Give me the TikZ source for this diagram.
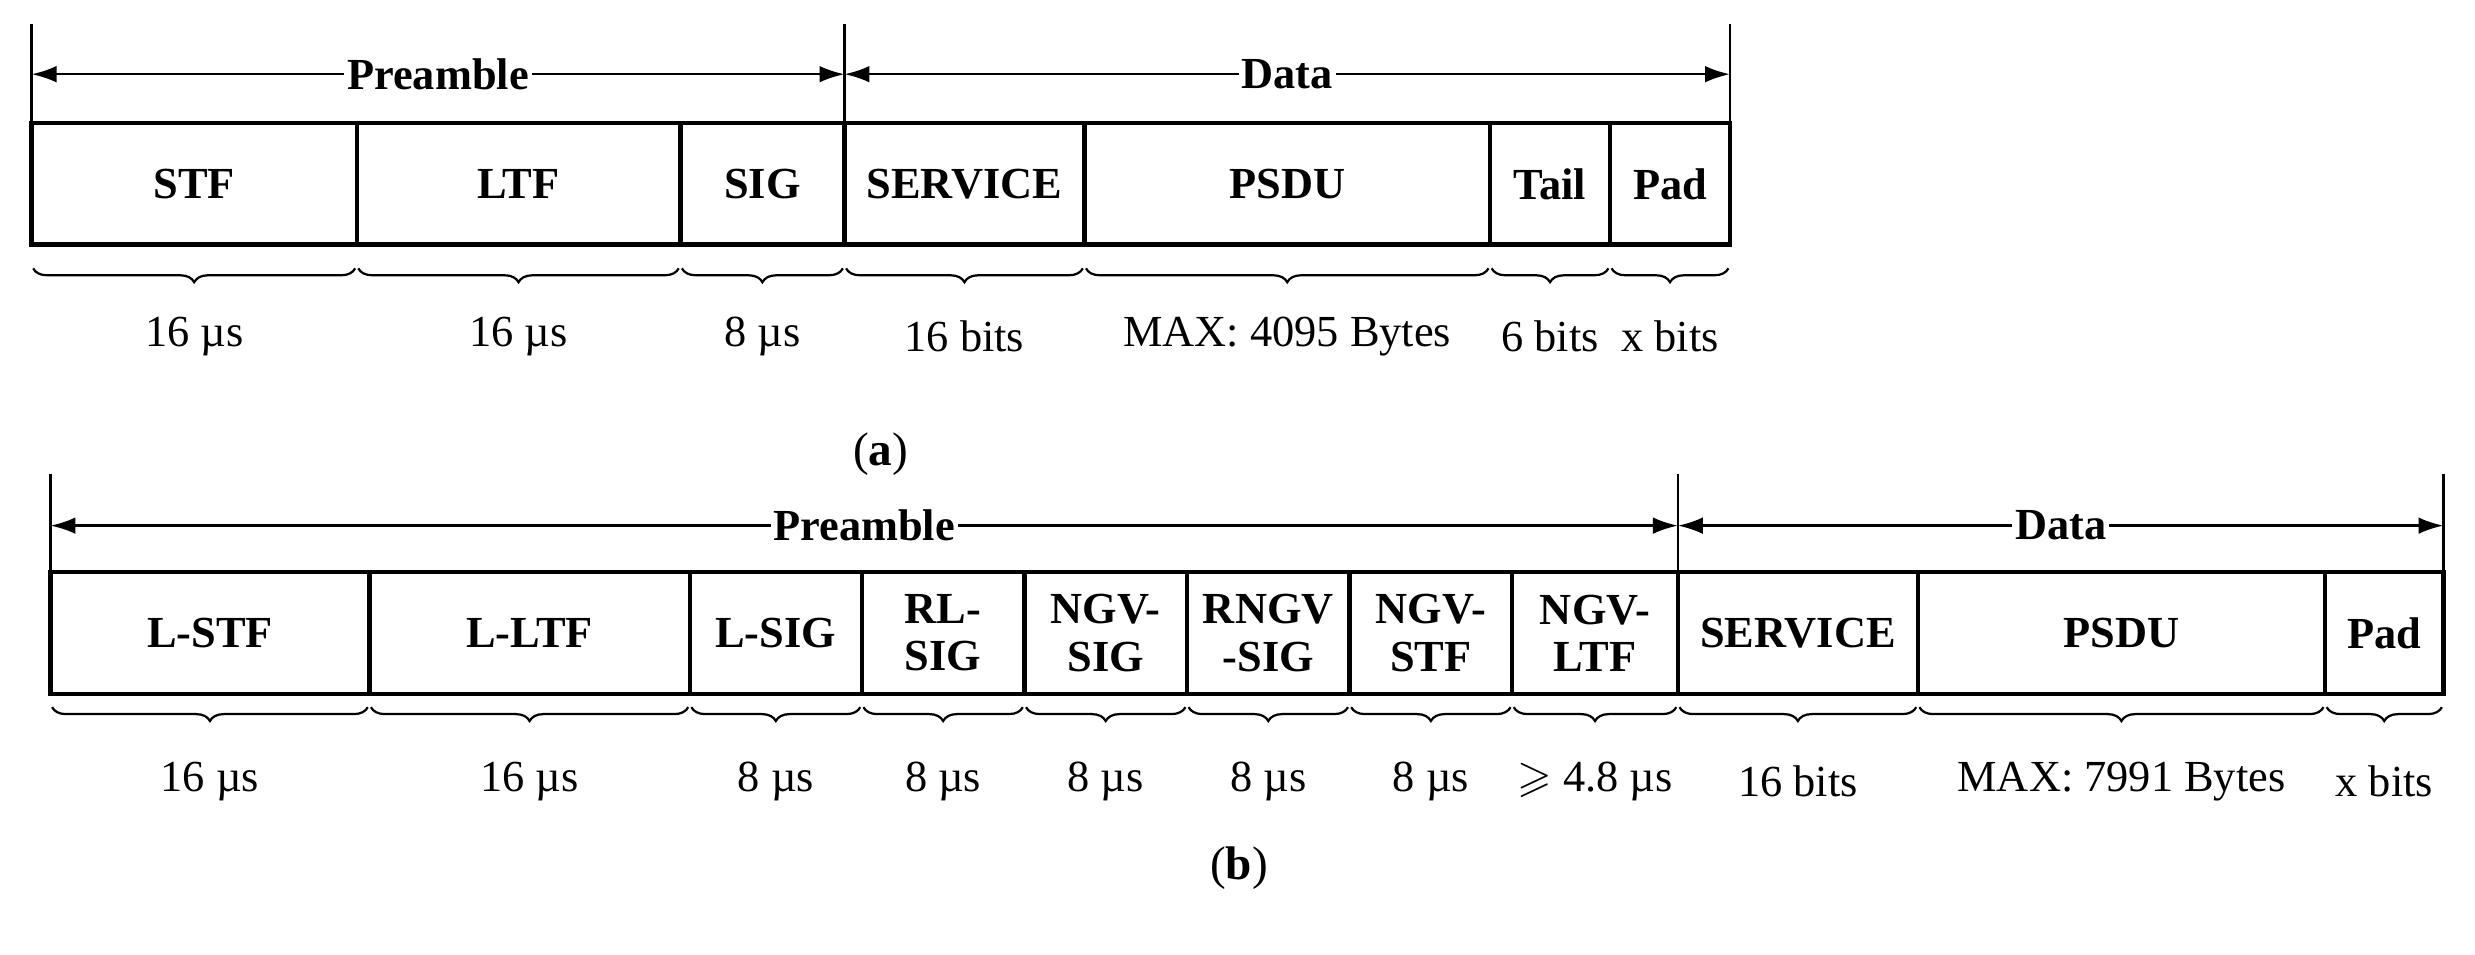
\documentclass[tikz,border=0pt]{standalone}
\usepackage{amssymb}
\usepackage{fontspec}
\setmainfont{Liberation Serif}
\usetikzlibrary{decorations.pathreplacing,arrows.meta}
\begin{document}
\begin{tikzpicture}[x=0.02cm,y=-0.02cm,
 cell/.style={draw,line width=1.6pt,minimum height=1.54cm,inner sep=0pt,font=\fontsize{16}{17}\selectfont\bfseries,align=center},
 lab/.style={font=\fontsize{16}{17}\selectfont},
 br/.style={decorate,decoration={brace,mirror,amplitude=5pt},line width=0.8pt},
 arr/.style={{Latex[length=9pt,width=6pt]}-{Latex[length=9pt,width=6pt]},line width=0.9pt},
 tk/.style={line width=0.9pt},
 hd/.style={fill=white,inner sep=1pt,font=\fontsize{16}{17}\selectfont\bfseries}]
\useasboundingbox (0,0) rectangle (1568,604.5);
% (a)
\foreach \a/\b/\t/\l/\n in {20/226/STF/16 µs/a1,226/431/LTF/16 µs/a2,431/535/SIG/8 µs/a3,535/687/SERVICE/16 bits/a4,687/944/PSDU/MAX: 4095 Bytes/a5,944/1020/Tail/6 bits/a6,1020/1096/Pad/x bits/a7}{
 \node[cell,minimum width={(\b-\a)*0.02cm}] (\n) at ({(\a+\b)/2},116.5) {\t};
 \draw[br] (\a+1,170) -- (\b-1,170) coordinate[midway] (\n m);
 \node[lab] (\n l) at ({(\a+\b)/2},213) {\l};}
\coordinate (pa1) at (20,47); \coordinate (pa2) at (535,47); \coordinate (pa3) at (1096,47);
\foreach \c in {pa1,pa2,pa3}{\draw[tk] (\c) ++(0,-32) -- ++(0,63);}
\draw[arr] (pa1) -- (pa2) node[midway,hd] {Preamble};
\draw[arr] (pa2) -- (pa3) node[midway,hd] {Data};
\node[font=\fontsize{17}{18}\selectfont] (capa) at (558,288) {(\textbf{a})};
% (b)
\foreach \a/\b/\t/\l/\n in {32/234/L-STF/16 µs/b1,234/437/L-LTF/16 µs/b2,437/546/L-SIG/8 µs/b3,546/649/RL-\\SIG/8 µs/b4,649/752/NGV-\\SIG/8 µs/b5,752/855/RNGV\\-SIG/8 µs/b6,855/958/NGV-\\STF/8 µs/b7,958/1063/NGV-\\LTF/$\geqslant$ 4.8 µs/b8,1063/1215/SERVICE/16 bits/b9,1215/1473/PSDU/MAX: 7991 Bytes/b10,1473/1548/Pad/x bits/b11}{
 \node[cell,minimum width={(\b-\a)*0.02cm}] (\n) at ({(\a+\b)/2},401) {\t};
 \draw[br] (\a+1,448) -- (\b-1,448) coordinate[midway] (\n m);
 \node[lab] (\n l) at ({(\a+\b)/2},495) {\l};}
\coordinate (pb1) at (32,333); \coordinate (pb2) at (1063,333); \coordinate (pb3) at (1548,333);
\foreach \c in {pb1,pb2,pb3}{\draw[tk] (\c) ++(0,-33) -- ++(0,62);}
\draw[arr] (pb1) -- (pb2) node[midway,hd] {Preamble};
\draw[arr] (pb2) -- (pb3) node[midway,hd] {Data};
\node[font=\fontsize{17}{18}\selectfont] (capb) at (785,550) {(\textbf{b})};
\end{tikzpicture}
\end{document}
